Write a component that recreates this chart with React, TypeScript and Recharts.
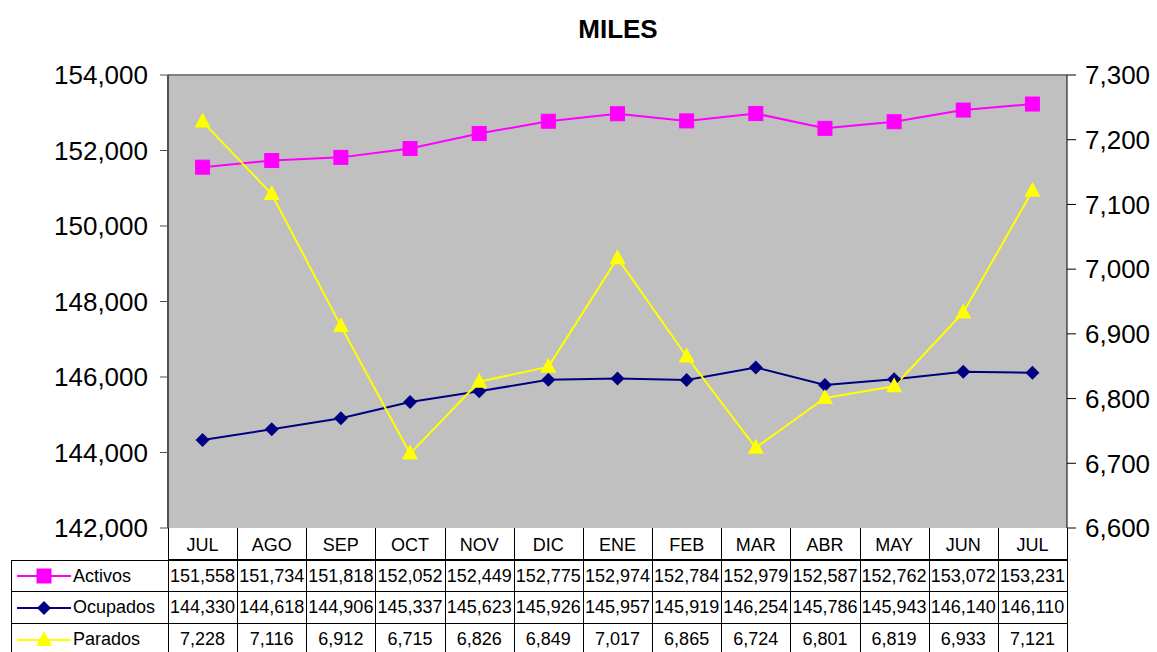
import React from 'react';
import {
  ComposedChart,
  Line,
  XAxis,
  YAxis,
  CartesianGrid,
  ReferenceLine,
} from 'recharts';

const months = ['JUL', 'AGO', 'SEP', 'OCT', 'NOV', 'DIC', 'ENE', 'FEB', 'MAR', 'ABR', 'MAY', 'JUN', 'JUL'];
const activos = [151558, 151734, 151818, 152052, 152449, 152775, 152974, 152784, 152979, 152587, 152762, 153072, 153231];
const ocupados = [144330, 144618, 144906, 145337, 145623, 145926, 145957, 145919, 146254, 145786, 145943, 146140, 146110];
const parados = [7228, 7116, 6912, 6715, 6826, 6849, 7017, 6865, 6724, 6801, 6819, 6933, 7121];
const leftTicks = [142000, 144000, 146000, 148000, 150000, 152000, 154000];
const rightTicks = [6600, 6700, 6800, 6900, 7000, 7100, 7200, 7300];

const data = months.map((mes, i) => ({
  mes,
  activos: activos[i],
  ocupados: ocupados[i],
  parados: parados[i],
}));

const FONT = '"Liberation Sans", Arial, sans-serif';
const W = 1157;
const H = 652;
const PLOT_L = 168;
const PLOT_R = 1067;
const PLOT_T = 75;
const PLOT_B = 528;
const COL_W = (PLOT_R - PLOT_L) / months.length;
const ROW_H = 32;

const fmt = (v: number) => v.toLocaleString('en-US');

const Square = (props: any) => {
  const { cx, cy } = props;
  if (cx == null || cy == null) return null;
  return <rect x={cx - 7} y={cy - 7} width={14} height={14} fill="#FF00FF" stroke="#FF00FF" />;
};

const Diamond = (props: any) => {
  const { cx, cy } = props;
  if (cx == null || cy == null) return null;
  return <polygon points={`${cx},${cy - 7} ${cx + 7},${cy} ${cx},${cy + 7} ${cx - 7},${cy}`} fill="#000080" />;
};

const Triangle = (props: any) => {
  const { cx, cy } = props;
  if (cx == null || cy == null) return null;
  return <polygon points={`${cx},${cy - 9} ${cx + 8},${cy + 6} ${cx - 8},${cy + 6}`} fill="#FFFF00" />;
};

const series = [
  { name: 'Activos', values: activos, color: '#FF00FF', Marker: Square },
  { name: 'Ocupados', values: ocupados, color: '#000080', Marker: Diamond },
  { name: 'Parados', values: parados, color: '#FFFF00', Marker: Triangle },
];

function DataTable() {
  const cell: React.CSSProperties = {
    position: 'absolute',
    boxSizing: 'border-box',
    borderRight: '1px solid #000',
    borderBottom: '1px solid #000',
    fontFamily: FONT,
    fontSize: 18,
    color: '#000',
    display: 'flex',
    alignItems: 'center',
    justifyContent: 'center',
    height: ROW_H,
  };
  return (
    <>
      {/* category header borders */}
      <div style={{ position: 'absolute', left: PLOT_L, top: PLOT_B, width: PLOT_R - PLOT_L, height: ROW_H, borderLeft: '1px solid #000', boxSizing: 'border-box' }} />
      {months.map((_, i) => (
        <div key={'h' + i} style={{ ...cell, left: PLOT_L + i * COL_W, top: PLOT_B, width: COL_W + 1 }} />
      ))}
      {series.map((s, r) => {
        const top = PLOT_B + ROW_H * (r + 1);
        return (
          <React.Fragment key={s.name}>
            <div
              style={{
                ...cell,
                left: 11,
                top,
                width: PLOT_L - 11 + 1,
                borderLeft: '1px solid #000',
                borderTop: r === 0 ? '1px solid #000' : undefined,
                justifyContent: 'flex-start',
              }}
            >
              <svg width={58} height={ROW_H} style={{ marginLeft: 3 }}>
                <line x1={2} x2={56} y1={ROW_H / 2} y2={ROW_H / 2} stroke={s.color} strokeWidth={2} />
                <s.Marker cx={29} cy={ROW_H / 2} />
              </svg>
              <span>{s.name}</span>
            </div>
            {s.values.map((v, i) => (
              <div
                key={i}
                style={{
                  ...cell,
                  left: PLOT_L + i * COL_W,
                  top,
                  width: COL_W + 1,
                  borderTop: r === 0 ? '1px solid #000' : undefined,
                }}
              >
                {fmt(v)}
              </div>
            ))}
          </React.Fragment>
        );
      })}
    </>
  );
}

export default function App() {
  return (
    <div style={{ position: 'absolute', left: 0, top: 0, width: W, height: H, background: '#fff', overflow: 'hidden' }}>
      <div
        style={{
          position: 'absolute',
          left: 518,
          width: 200,
          top: 14,
          textAlign: 'center',
          fontFamily: FONT,
          fontWeight: 'bold',
          fontSize: 26,
        }}
      >
        MILES
      </div>
      <ComposedChart
        width={W}
        height={H}
        data={data}
        margin={{ top: PLOT_T, left: PLOT_L - 120, right: W - PLOT_R - 90, bottom: H - PLOT_B - 32 }}
        style={{ fontFamily: FONT }}
      >
        <CartesianGrid horizontal={false} vertical={false} fill="#C0C0C0" yAxisId="left" />
        <XAxis
          dataKey="mes"
          tickLine={false}
          axisLine={false}
          height={32}
          tickMargin={4}
          tick={{ fill: '#000', fontSize: 18 }}
          interval={0}
          padding={{ left: COL_W / 2, right: COL_W / 2 }}
        />
        <YAxis
          yAxisId="left"
          orientation="left"
          width={120}
          domain={[142000, 154000]}
          ticks={leftTicks}
          tickFormatter={fmt}
          tickSize={8}
          tickMargin={12}
          tick={{ fill: '#000', fontSize: 26 }}
          axisLine={{ stroke: '#505050', strokeWidth: 2 }}
          tickLine={{ stroke: '#505050' }}
          interval={0}
        />
        <YAxis
          yAxisId="right"
          orientation="right"
          width={90}
          domain={[6600, 7300]}
          ticks={rightTicks}
          tickFormatter={fmt}
          tickSize={9}
          tickMargin={9}
          tick={{ fill: '#000', fontSize: 26, textAnchor: 'start' }}
          axisLine={{ stroke: '#000' }}
          tickLine={{ stroke: '#000' }}
          interval={0}
        />
        <ReferenceLine yAxisId="left" y={154000} stroke="#808080" strokeWidth={2} />
        <Line
          yAxisId="left"
          type="linear"
          dataKey="activos"
          stroke="#FF00FF"
          strokeWidth={2}
          dot={<Square />}
          activeDot={false}
          isAnimationActive={false}
        />
        <Line
          yAxisId="left"
          type="linear"
          dataKey="ocupados"
          stroke="#000080"
          strokeWidth={2}
          dot={<Diamond />}
          activeDot={false}
          isAnimationActive={false}
        />
        <Line
          yAxisId="right"
          type="linear"
          dataKey="parados"
          stroke="#FFFF00"
          strokeWidth={2}
          dot={<Triangle />}
          activeDot={false}
          isAnimationActive={false}
        />
      </ComposedChart>
      <DataTable />
    </div>
  );
}
